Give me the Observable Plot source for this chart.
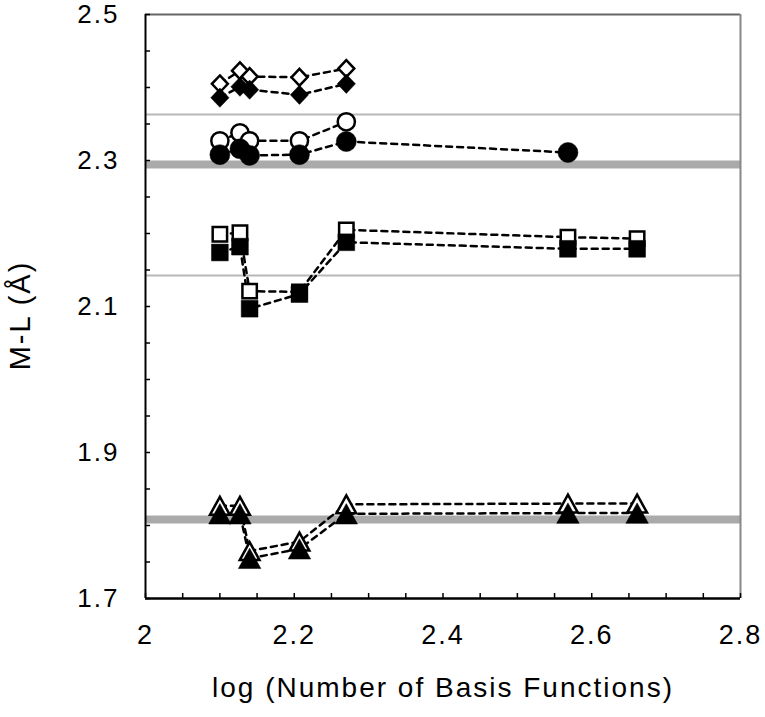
<!DOCTYPE html>
<html><head><meta charset="utf-8">
<script src="https://cdn.jsdelivr.net/npm/d3@7"></script>
<script src="https://cdn.jsdelivr.net/npm/@observablehq/plot@0.6"></script>
<style>body{margin:0;background:#fff}</style>
</head><body><div id="chart"></div>
<script>
// ---- data ----
const logN = [2.100, 2.127, 2.140, 2.207, 2.270, 2.568, 2.661];
const diamondOpen   = [2.405, 2.423, 2.415, 2.414, 2.426];
const diamondFilled = [2.386, 2.401, 2.397, 2.390, 2.405];
const circleOpen    = [2.327, 2.338, 2.327, 2.327, 2.353];
const circleFilled  = [2.308, 2.316, 2.307, 2.308, 2.326, 2.311];
const squareOpen    = [2.199, 2.201, 2.121, 2.120, 2.205, 2.195, 2.193];
const squareFilled  = [2.174, 2.182, 2.097, 2.117, 2.188, 2.179, 2.179];
const triangleOpen  = [1.827, 1.827, 1.765, 1.778, 1.829, 1.830, 1.830];
const triangleFilled= [1.816, 1.816, 1.755, 1.768, 1.816, 1.817, 1.817];
const refThin  = [2.363, 2.1425];
const refThick = [2.2945, 1.8082];
const xLabels = [2, 2.2, 2.4, 2.6, 2.8];
const yLabels = [1.7, 1.9, 2.1, 2.3, 2.5];
const xMinor = [2, 2.05, 2.1, 2.15, 2.2, 2.25, 2.3, 2.35, 2.4, 2.45, 2.5, 2.55, 2.6, 2.65, 2.7, 2.75, 2.8];
const yMinor = [1.7, 1.75, 1.8, 1.85, 1.9, 1.95, 2.0, 2.05, 2.1, 2.15, 2.2, 2.25, 2.3, 2.35, 2.4, 2.45, 2.5];
const xTitle = "log (Number of Basis Functions)";
const yTitle = "M-L (Å)";

// ---- symbols (bounding-box centred, Excel-like) ----
const rad = s => Math.sqrt(s / Math.PI);
const diamond = {draw(c, s){ const r = rad(s); c.moveTo(0,-r); c.lineTo(r*0.95,0); c.lineTo(0,r); c.lineTo(-r*0.95,0); c.closePath(); }};
const square  = {draw(c, s){ const r = rad(s); c.rect(-r,-r,2*r,2*r); }};
const circle  = {draw(c, s){ const r = rad(s); c.moveTo(r,0); c.arc(0,0,r,0,2*Math.PI); }};
const triangle= {draw(c, s){ const r = rad(s); c.moveTo(0,-r); c.lineTo(1.1*r,r); c.lineTo(-1.1*r,r); c.closePath(); }};

const series = [
  {name:"diamondOpen",   values: diamondOpen,   symbol: diamond,  open: true,  r: 8.4},
  {name:"circleOpen",    values: circleOpen,    symbol: circle,   open: true,  r: 8.6},
  {name:"squareOpen",    values: squareOpen,    symbol: square,   open: true,  r: 7.2},
  {name:"triangleOpen",  values: triangleOpen,  symbol: triangle, open: true,  r: 9},
  {name:"diamondFilled", values: diamondFilled, symbol: diamond,  open: false, r: 9.6},
  {name:"circleFilled",  values: circleFilled,  symbol: circle,   open: false, r: 10},
  {name:"squareFilled",  values: squareFilled,  symbol: square,   open: false, r: 8.4},
  {name:"triangleFilled",values: triangleFilled,symbol: triangle, open: false, r: 10.2}
];
const rows = series.flatMap(s => s.values.map((v, i) => ({series: s.name, x: logN[i], y: v})));

const dotMarks = series.map(s => Plot.dot(rows.filter(d => d.series === s.name), {
  x: "x", y: "y", symbol: s.symbol, r: s.r,
  fill: s.open ? "white" : "black",
  stroke: "black", strokeWidth: s.open ? 2.5 : 0.5
}));

const chart = Plot.plot({
  width: 765, height: 717,
  marginLeft: 145, marginRight: 25, marginTop: 14, marginBottom: 119,
  x: {domain: [2, 2.8]},
  y: {domain: [1.7, 2.5]},
  style: {fontFamily: "'Liberation Sans', Arial, sans-serif", letterSpacing: "2px", background: "white", color: "black"},
  marks: [
    Plot.ruleY(refThick, {stroke: "#aaaaaa", strokeWidth: 8}),
    Plot.ruleY(refThin, {stroke: "#b8b8b8", strokeWidth: 2}),
    Plot.ruleY([2.5], {stroke: "#666", strokeWidth: 2}),
    Plot.ruleX([2.8], {stroke: "#888", strokeWidth: 2}),
    Plot.axisY(yMinor, {anchor: "left", tickSize: -5, text: null, label: null, strokeWidth: 1.5}),
    Plot.axisX(xMinor, {anchor: "bottom", tickSize: -5, text: null, label: null, strokeWidth: 1.5}),
    Plot.ruleX([2], {stroke: "black", strokeWidth: 2}),
    Plot.ruleY([1.7], {stroke: "black", strokeWidth: 2.5}),
    Plot.axisY(yLabels, {anchor: "left", tickSize: 0, tickPadding: 26, fontSize: 26, label: null, tickFormat: d => String(d)}),
    Plot.axisX(xLabels, {anchor: "bottom", tickSize: 0, tickPadding: 26, fontSize: 27, label: null, tickFormat: d => String(d)}),
    Plot.line(rows, {x: "x", y: "y", z: "series", stroke: "black", strokeWidth: 2.5, strokeDasharray: "6,5"}),
    ...dotMarks,
    Plot.text([yTitle], {text: d => d, frameAnchor: "left", textAnchor: "middle", rotate: -90, dx: -125, dy: 9, fontSize: 29, lineAnchor: "middle"}),
    Plot.text([xTitle], {text: d => d, frameAnchor: "bottom", textAnchor: "middle", dy: 90, fontSize: 28, lineAnchor: "middle"})
  ]
});
document.getElementById("chart").appendChild(chart);
</script></body></html>
